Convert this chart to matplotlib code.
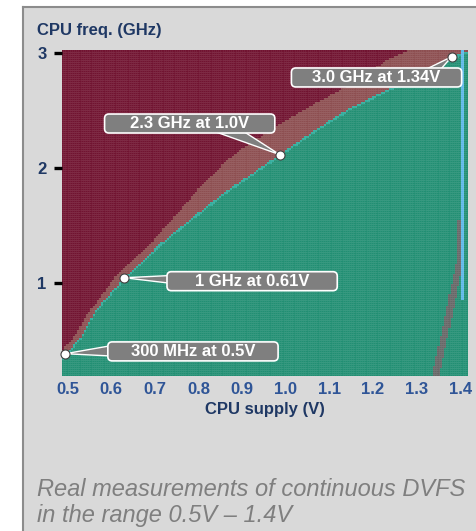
import numpy as np
import matplotlib
matplotlib.use("Agg")
import matplotlib.pyplot as plt
from matplotlib.colors import ListedColormap, BoundaryNorm
from matplotlib.patches import Rectangle, FancyBboxPatch, Polygon
from matplotlib.lines import Line2D

plt.rcParams['font.family'] = ['Liberation Sans', 'DejaVu Sans']

# top edge of the passing (green) region
pass_v = [0.49, 0.532, 0.561, 0.60, 0.63, 0.714, 0.789, 0.866, 0.925, 0.986, 1.07, 1.145, 1.22, 1.298, 1.373, 1.415]
pass_f = [0.36, 0.54, 0.75, 0.92, 1.05, 1.35, 1.58, 1.81, 1.96, 2.12, 2.34, 2.52, 2.66, 2.80, 2.95, 3.02]
# top edge of the unstable (brown) band, above it everything fails
fail_v = [0.49, 0.516, 0.548, 0.584, 0.607, 0.691, 0.759, 0.811, 0.866, 0.895, 0.993, 1.07, 1.145, 1.236, 1.275, 1.415]
fail_f = [0.43, 0.54, 0.75, 0.92, 1.05, 1.35, 1.64, 1.87, 2.07, 2.16, 2.40, 2.57, 2.72, 2.95, 3.02, 3.30]
# grey streak near the right edge (freq -> voltage)
streak_f = [0.20, 0.70, 1.21, 1.55]
streak_v = [1.343, 1.372, 1.400, 1.402]

# measurement grid
volts = np.linspace(0.49, 1.415, 186)
freqs = np.linspace(0.205, 3.02, 163)

# highlighted operating points
pt_v = [0.495, 0.63, 0.986, 1.38]
pt_f = [0.39, 1.05, 2.12, 2.97]
pt_labels = ["300 MHz at 0.5V", "1 GHz at 0.61V", "2.3 GHz at 1.0V", "3.0 GHz at 1.34V"]

x_ticks = [0.5, 0.6, 0.7, 0.8, 0.9, 1.0, 1.1, 1.2, 1.3, 1.4]
y_ticks = [1, 2, 3]

# ---------------------------------------------------------------
W, H = 477, 531
fig = plt.figure(figsize=(W / 100, H / 100), dpi=100)
fig.patch.set_facecolor("white")

# grey slide panel
fig.patches.append(Rectangle((23 / W, 0), 1, 1 - 7 / H, transform=fig.transFigure,
                             fc="#d9d9d9", ec="none", zorder=-2))
fig.lines.append(Line2D([23 / W, 23 / W], [0, 1 - 7 / H], transform=fig.transFigure, color="#8c8c8c", lw=1.5, zorder=-1))
fig.lines.append(Line2D([23 / W, 1], [1 - 7 / H, 1 - 7 / H], transform=fig.transFigure, color="#8c8c8c", lw=1.5, zorder=-1))

ax = fig.add_axes([62 / W, 1 - 376 / H, (468 - 62) / W, (376 - 50) / H])
ax.set_facecolor("none")

# classify every cell from the read boundaries
dv = volts[1] - volts[0]
df = freqs[1] - freqs[0]
V, F = np.meshgrid(volts, freqs)
g_top = np.interp(volts, pass_v, pass_f)[None, :]
b_top = np.interp(volts, fail_v, fail_f)[None, :]
state = np.full(V.shape, 2.0)               # fail (maroon)
state[F < b_top] = 1                          # unstable band
state[F < g_top] = 4                          # cyan edge
state[F < g_top - 1.2 * df] = 0               # pass (green)
sx = np.interp(freqs, streak_f, streak_v)[:, None]
in_streak = (np.abs(V - sx) < 1.6 * dv) & (F < streak_f[-1])
state[in_streak] = 3
state[(np.abs(V - 1.407) < 0.6 * dv) & (F > 0.86)] = 5

cmap = ListedColormap(["#178a6c", "#874648", "#6a0826", "#5f5f5f", "#26a897", "#58b6e8"])
norm = BoundaryNorm(np.arange(-0.5, 6.5, 1), cmap.N)
ax.pcolormesh(volts, freqs, state, cmap=cmap, norm=norm, shading="nearest",
              edgecolors=(1, 1, 1, 0.05), linewidth=0.2)

ax.set_xlim(volts[0] - dv / 2, volts[-1] + dv / 2)
ax.set_ylim(freqs[0] - df / 2, freqs[-1] + df / 2)
for s in ax.spines.values():
    s.set_visible(False)

ax.set_xticks(x_ticks)
ax.set_xticklabels([f"{t:.1f}" for t in x_ticks])
ax.set_yticks(y_ticks)
ax.tick_params(axis="x", length=0, pad=4, labelsize=12, labelcolor="#2f5597")
ax.tick_params(axis="y", length=6, width=2.4, color="black", pad=5, labelsize=12, labelcolor="#1f3864")
for lab in ax.get_xticklabels() + ax.get_yticklabels():
    lab.set_fontweight("bold")

ax.set_xlabel("CPU supply (V)", fontsize=12, fontweight="bold", color="#1f3864", labelpad=4)
fig.text(37 / W, 1 - 30 / H, "CPU freq. (GHz)", fontsize=12, fontweight="bold",
         color="#1f3864", va="center", ha="left")

# call-out boxes (center x, center y in data) and wedge bases
boxes = [(0.7875, 0.41), (0.923, 1.02), (0.78, 2.39), (1.208, 2.79)]
box_w = 0.39
box_h = 0.165
wedges = [
    [(0.60, 0.46), (0.60, 0.37)],
    [(0.74, 1.07), (0.74, 1.00)],
    [(0.83, 2.33), (0.90, 2.33)],
    [(1.31, 2.84), (1.35, 2.84)],
]
for (cx, cy), base, px, py, txt in zip(boxes, wedges, pt_v, pt_f, pt_labels):
    ax.add_patch(Polygon([base[0], (px, py), base[1]], closed=True, fc="#7f7f7f",
                         ec="white", lw=1.0, zorder=5))
    ax.add_patch(FancyBboxPatch((cx - box_w / 2, cy - box_h / 2), box_w, box_h,
                                boxstyle="round,pad=0,rounding_size=0.01", mutation_aspect=3.8,
                                fc="#7f7f7f", ec="white", lw=1.2, zorder=6))
    ax.text(cx, cy, txt, color="white", fontsize=12, fontweight="bold",
            ha="center", va="center", zorder=7)

ax.plot(pt_v, pt_f, "o", ms=6.5, mfc="white", mec="#404040", mew=0.8, zorder=8, clip_on=False)

fig.text(37 / W, 1 - 478 / H, "Real measurements of continuous DVFS\nin the range 0.5V \u2013 1.4V",
         fontsize=17, style="italic", color="#7f7f7f", va="top", ha="left", linespacing=1.15)

fig.savefig("out.png", dpi=100)
